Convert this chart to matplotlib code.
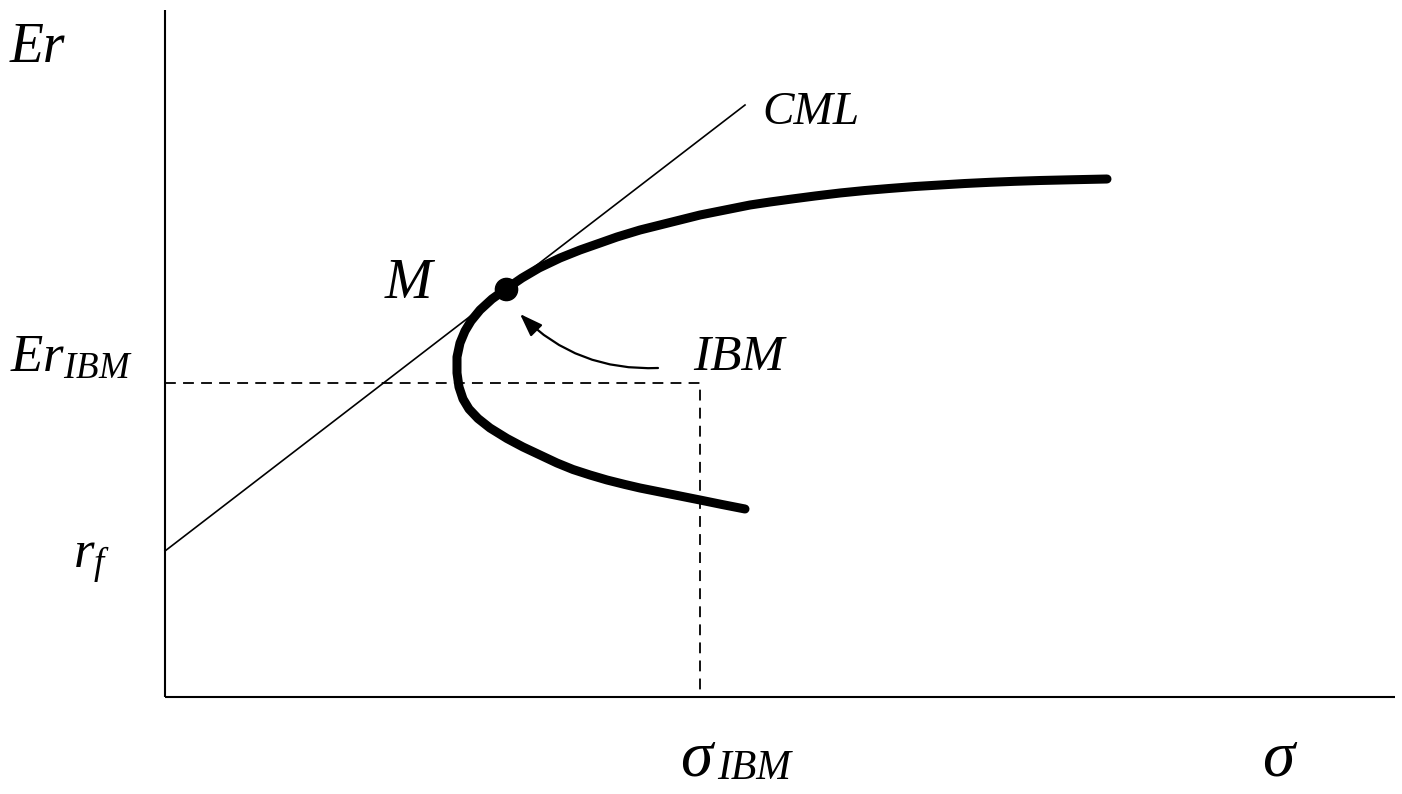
import matplotlib
matplotlib.use("Agg")
import matplotlib.pyplot as plt

plt.rcParams['font.family'] = ['Liberation Serif', 'DejaVu Serif']
plt.rcParams['font.style'] = 'italic'
plt.rcParams['mathtext.fontset'] = 'custom'
plt.rcParams['mathtext.it'] = 'Liberation Serif:italic'
plt.rcParams['mathtext.rm'] = 'Liberation Serif:italic'

# efficient frontier (sigma, expected return),
# from the low end, round the nose, up to the flat top end
frontier_sigma = [5.80, 5.57, 5.35, 5.05, 4.75, 4.60, 4.42, 4.25, 4.08, 3.92,
                  3.75, 3.58, 3.42, 3.25, 3.13, 3.04, 2.98, 2.94, 2.92, 2.92,
                  2.95, 3.00, 3.06, 3.15, 3.27, 3.41, 3.57, 3.74, 3.95, 4.15,
                  4.35, 4.52, 4.75, 4.95, 5.15, 5.35, 5.60, 5.85, 6.05, 6.27,
                  6.50, 6.75, 7.00, 7.24, 7.50, 7.75, 8.00, 8.25, 8.50, 8.75,
                  9.05, 9.42]
frontier_er = [1.88, 1.925, 1.97, 2.03, 2.09, 2.125, 2.17, 2.22, 2.275, 2.34,
               2.42, 2.50, 2.585, 2.69, 2.785, 2.88, 2.98, 3.10, 3.24, 3.40,
               3.54, 3.66, 3.76, 3.87, 3.98, 4.08, 4.19, 4.29, 4.39, 4.47,
               4.54, 4.60, 4.67, 4.72, 4.77, 4.82, 4.87, 4.92, 4.95, 4.98,
               5.01, 5.04, 5.065, 5.085, 5.105, 5.12, 5.135, 5.147, 5.157, 5.165,
               5.172, 5.18]

market = (3.41, 4.08)          # tangency portfolio M
rf = 1.46                      # risk free rate
cml_end = (5.80, 5.92)         # where the CML line stops
ibm = (5.35, 3.14)             # sigma_IBM, Er_IBM
ibm_arrow_from = (4.93, 3.29)
ibm_arrow_to = (3.55, 3.83)
axis_top = 6.87
axis_right = 12.30

fig = plt.figure(figsize=(14.02, 7.94), dpi=100)
ax = fig.add_axes([0, 0, 1, 1])
ax.set_xlim(-1.65, 12.37)
ax.set_ylim(-0.97, 6.97)
ax.axis('off')

# axes
ax.plot([0, 0], [0, axis_top], color='black', lw=1.5, solid_capstyle='butt')
ax.plot([0, axis_right], [0, 0], color='black', lw=1.5, solid_capstyle='butt')

# dashed guides for IBM
ax.plot([0, ibm[0], ibm[0]], [ibm[1], ibm[1], 0], color='black', lw=1.3,
        linestyle=(0, (6, 4)))

# CML
ax.plot([0, cml_end[0]], [rf, cml_end[1]], color='black', lw=1.2)

# frontier
ax.plot(frontier_sigma, frontier_er, color='black', lw=6.5,
        solid_capstyle='round', solid_joinstyle='round')
ax.plot(*market, 'o', color='black', markersize=16)

# arrow from IBM label
ax.annotate('', xy=ibm_arrow_to, xytext=ibm_arrow_from,
            arrowprops=dict(arrowstyle='-|>,head_length=1.4,head_width=0.5',
                            connectionstyle='arc3,rad=-0.22',
                            color='black', lw=1.6, shrinkA=0, shrinkB=0))

# labels
ax.text(-1.55, 6.35, 'Er', fontsize=40, va='baseline')
ax.text(-1.55, 3.25, r'$Er_{IBM}$', fontsize=38, va='baseline')
ax.text(-0.92, 1.29, r'$r_f$', fontsize=38, va='baseline')
ax.text(2.20, 3.99, 'M', fontsize=41, va='baseline')
ax.text(5.28, 3.27, 'IBM', fontsize=37, va='baseline')
ax.text(5.97, 5.73, 'CML', fontsize=34, va='baseline')
ax.text(5.15, -0.79, 'σ', fontsize=47, va='baseline')
ax.text(5.52, -0.82, 'IBM', fontsize=30, va='baseline')
ax.text(10.97, -0.79, 'σ', fontsize=47, va='baseline')

fig.savefig('out.png', dpi=100)
